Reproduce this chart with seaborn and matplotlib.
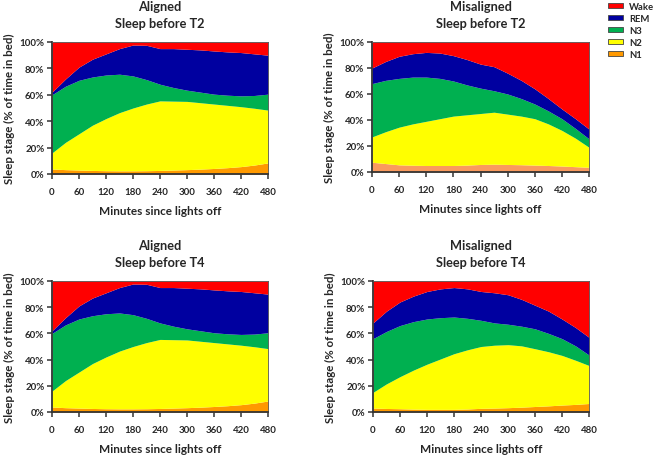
import numpy as np
import pandas as pd
import seaborn as sns
import matplotlib.pyplot as plt
from matplotlib.patches import Patch

minutes = [0, 30, 60, 90, 120, 150, 180, 210, 240, 270, 300, 330, 360, 390, 420, 450, 480]
stages = ['N1', 'N2', 'N3', 'REM', 'Wake']

# % of time in bed per stage, aligned / sleep before T2
al_t2_n1 = [3.8, 3.3, 3.0, 2.7, 2.5, 2.4, 2.4, 2.5, 2.7, 3.0, 3.3, 3.7, 4.2, 4.8, 5.6, 6.8, 8.4]
al_t2_n2 = [12.2, 20.7, 27.5, 34.3, 39.5, 44.1, 47.6, 50.5, 52.7, 52.2, 51.7, 50.3, 48.8, 47.2, 45.4, 43.0, 40.0]
al_t2_n3 = [44.0, 42.5, 40.5, 36.5, 33.0, 29.1, 24.3, 18.5, 12.6, 10.3, 8.5, 8.0, 7.5, 7.7, 8.2, 9.7, 12.1]
al_t2_rem = [2.0, 5.5, 10.0, 13.5, 16.0, 19.4, 23.4, 26.0, 27.0, 29.5, 31.0, 32.0, 32.7, 32.8, 32.8, 31.5, 29.5]
al_t2_wake = [38.0, 28.0, 19.0, 13.0, 9.0, 5.0, 2.3, 2.5, 5.0, 5.0, 5.5, 6.0, 6.8, 7.5, 8.0, 9.0, 10.0]

# misaligned / sleep before T2
mis_t2_n1 = [7.5, 6.5, 5.5, 5.2, 5.0, 5.0, 5.0, 5.3, 5.8, 6.0, 5.8, 5.6, 5.3, 5.0, 4.6, 4.1, 3.6]
mis_t2_n2 = [19.5, 24.5, 29.0, 31.8, 34.0, 36.0, 38.0, 38.7, 39.2, 40.0, 38.7, 37.4, 35.7, 32.0, 27.4, 21.9, 15.4]
mis_t2_n3 = [41.0, 39.5, 37.5, 36.0, 34.0, 31.0, 27.0, 23.0, 19.5, 16.5, 15.5, 13.5, 11.3, 10.0, 9.0, 7.5, 6.5]
mis_t2_rem = [12.0, 14.5, 17.0, 18.0, 19.0, 19.5, 19.5, 19.5, 18.5, 18.5, 16.0, 14.0, 11.7, 9.5, 7.5, 7.5, 7.5]
mis_t2_wake = [20.0, 15.0, 11.0, 9.0, 8.0, 8.5, 10.5, 13.5, 17.0, 19.0, 24.0, 29.5, 36.0, 43.5, 51.5, 59.0, 67.0]

# aligned / sleep before T4
al_t4_n1 = [3.8, 3.3, 3.0, 2.7, 2.5, 2.4, 2.4, 2.5, 2.7, 3.0, 3.3, 3.7, 4.2, 4.8, 5.6, 6.8, 8.4]
al_t4_n2 = [12.2, 20.7, 27.5, 34.3, 39.5, 44.1, 47.6, 50.5, 52.7, 52.2, 51.7, 50.3, 48.8, 47.2, 45.4, 43.0, 40.0]
al_t4_n3 = [44.0, 42.5, 40.5, 36.5, 33.0, 29.1, 24.3, 18.5, 12.6, 10.3, 8.5, 8.0, 7.5, 7.7, 8.2, 9.7, 12.1]
al_t4_rem = [2.0, 5.5, 10.0, 13.5, 16.0, 19.4, 23.4, 26.0, 27.0, 29.5, 31.0, 32.0, 32.7, 32.8, 32.8, 31.5, 29.5]
al_t4_wake = [38.0, 28.0, 19.0, 13.0, 9.0, 5.0, 2.3, 2.5, 5.0, 5.0, 5.5, 6.0, 6.8, 7.5, 8.0, 9.0, 10.0]

# misaligned / sleep before T4
mis_t4_n1 = [3.0, 2.7, 2.5, 2.2, 2.0, 2.0, 2.0, 2.3, 2.8, 3.0, 3.3, 3.7, 4.2, 4.7, 5.3, 5.8, 6.5]
mis_t4_n2 = [12.0, 18.8, 24.5, 29.8, 34.5, 38.5, 42.5, 45.2, 47.2, 48.0, 48.1, 46.8, 44.1, 41.3, 37.9, 33.7, 29.0]
mis_t4_n3 = [41.0, 40.0, 39.0, 37.0, 34.5, 31.5, 28.0, 24.0, 20.0, 17.0, 15.6, 15.0, 15.2, 14.0, 12.8, 11.0, 8.0]
mis_t4_rem = [12.0, 15.5, 18.0, 19.5, 21.0, 22.0, 22.5, 22.5, 22.0, 23.0, 22.5, 20.5, 18.0, 17.0, 15.0, 14.0, 13.5]
mis_t4_wake = [32.0, 23.0, 16.0, 11.5, 8.0, 6.0, 5.0, 6.0, 8.0, 9.0, 10.5, 14.0, 18.5, 23.0, 29.0, 35.5, 43.0]

colors = {'Wake': '#FF0000', 'REM': '#0000A0', 'N3': '#00B050', 'N2': '#FFFF00', 'N1': '#FF9900'}

panels = [
    ('Aligned\nSleep before T2', [al_t2_n1, al_t2_n2, al_t2_n3, al_t2_rem, al_t2_wake],
     [52 / 660, 1 - 175 / 456, 216 / 660, 132 / 456], '#FF9900'),
    ('Misaligned\nSleep before T2', [mis_t2_n1, mis_t2_n2, mis_t2_n3, mis_t2_rem, mis_t2_wake],
     [372 / 660, 1 - 173 / 456, 217 / 660, 130 / 456], '#FA9A5E'),
    ('Aligned\nSleep before T4', [al_t4_n1, al_t4_n2, al_t4_n3, al_t4_rem, al_t4_wake],
     [52 / 660, 1 - 413 / 456, 216 / 660, 131 / 456], '#FF9900'),
    ('Misaligned\nSleep before T4', [mis_t4_n1, mis_t4_n2, mis_t4_n3, mis_t4_rem, mis_t4_wake],
     [373 / 660, 1 - 413 / 456, 216 / 660, 131 / 456], '#FF9900'),
]

sns.set_style('ticks')
plt.rcParams['font.family'] = ['Lato', 'DejaVu Sans']
plt.rcParams['font.weight'] = 'bold'

fig = plt.figure(figsize=(6.6, 4.56), dpi=100)

for title, series, rect, n1_color in panels:
    ax = fig.add_axes(rect)
    df = pd.DataFrame(dict(zip(stages, series)), index=minutes)
    cols = [n1_color, colors['N2'], colors['N3'], colors['REM'], colors['Wake']]
    ax.stackplot(df.index, *[df[s] for s in stages], colors=cols, linewidth=0)
    ax.set_xlim(0, 480)
    ax.set_ylim(0, 100)
    ax.set_xticks(range(0, 481, 60))
    ax.set_yticks(range(0, 101, 20))
    ax.set_yticklabels([f'{v}%' for v in range(0, 101, 20)])
    ax.tick_params(labelsize=7, length=3.5, width=1.1, color='#333333')
    ax.tick_params(axis='x', pad=6)
    ax.tick_params(axis='y', pad=2)
    ax.set_title(title, fontsize=9.2, fontweight='bold', pad=11, linespacing=1.45)
    ax.set_xlabel('Minutes since lights off', fontsize=8.5, fontweight='bold', labelpad=6)
    ax.set_ylabel('Sleep stage (% of time in bed)', fontsize=8.3, fontweight='bold', labelpad=3)
    for side in ['left', 'bottom']:
        ax.spines[side].set_linewidth(1.3)
        ax.spines[side].set_color('#333333')
    for side in ['top', 'right']:
        ax.spines[side].set_linewidth(0.6)
        ax.spines[side].set_color('#555555')

handles = [Patch(facecolor=colors[s], edgecolor='#444444', linewidth=0.6, label=s)
           for s in ['Wake', 'REM', 'N3', 'N2', 'N1']]
fig.legend(handles=handles, loc='upper left', bbox_to_anchor=(605 / 660, 1.0),
           frameon=False, fontsize=6.8, handlelength=1.6, handleheight=0.45,
           handletextpad=0.6, labelspacing=0.3, borderaxespad=0.15, borderpad=0.2)

fig.savefig('out.png', dpi=100)
